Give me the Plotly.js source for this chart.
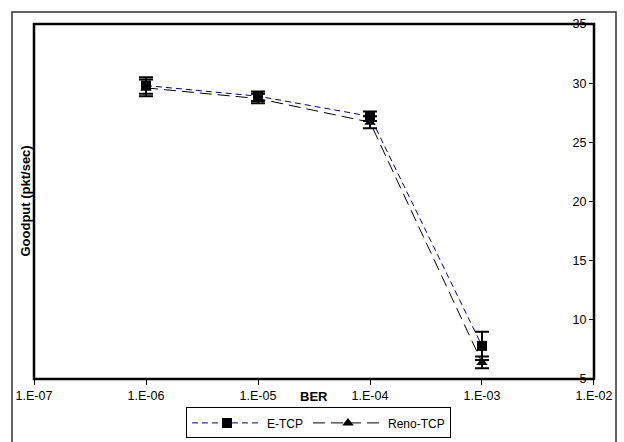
<!DOCTYPE html>
<html>
<head>
<meta charset="utf-8">
<script src="https://cdn.plot.ly/plotly-3.0.1.min.js"></script>
<style>html,body{margin:0;padding:0;background:#fff;}#chart{width:624px;height:442px;}</style>
</head>
<body>
<div id="chart"></div>
<script>
const ber = [1e-6, 1e-5, 1e-4, 1e-3];
const etcp = [29.8, 28.9, 27.2, 7.8];
const etcpErr = [0.7, 0.4, 0.4, 1.2];
const reno = [29.6, 28.7, 26.7, 6.4];
const renoErr = [0.7, 0.4, 0.5, 0.5];
const xTickVals = [1e-7, 1e-6, 1e-5, 1e-4, 1e-3, 1e-2];
const xTickText = ['1.E-07', '1.E-06', '1.E-05', '1.E-04', '1.E-03', '1.E-02'];
const yTickVals = [5, 10, 15, 20, 25, 30, 35];

const traces = [
  {
    x: ber, y: reno, name: 'Reno-TCP', type: 'scatter', mode: 'lines+markers',
    line: {color: '#000000', width: 1, dash: '12px,6px'},
    marker: {symbol: 'triangle-up', size: 10, color: '#000000'},
    error_y: {type: 'data', array: renoErr, visible: true, color: '#000000', thickness: 2, width: 7}
  },
  {
    x: ber, y: etcp, name: 'E-TCP', type: 'scatter', mode: 'lines+markers',
    line: {color: '#000080', width: 1, dash: '6px,4px'},
    marker: {symbol: 'square', size: 10, color: '#000000'},
    error_y: {type: 'data', array: etcpErr, visible: true, color: '#000000', thickness: 2, width: 7}
  }
];

const layout = {
  width: 624, height: 442,
  margin: {l: 34, r: 30, t: 24, b: 63, autoexpand: false},
  paper_bgcolor: '#ffffff', plot_bgcolor: '#ffffff',
  font: {family: 'Liberation Sans, Arial, sans-serif', size: 12.5, color: '#000'},
  showlegend: true,
  legend: {
    orientation: 'h', x: 0.508, xanchor: 'center', y: -0.08, yanchor: 'top',
    bordercolor: '#000', borderwidth: 1, traceorder: 'reversed',
    itemwidth: 70, font: {size: 12}
  },
  xaxis: {
    type: 'log', range: [-7.0001, -1.9999], tickvals: xTickVals, ticktext: xTickText,
    ticks: 'outside', ticklen: 5, tickcolor: '#000', tickwidth: 1, showgrid: false, zeroline: false,
    showline: false, automargin: false
  },
  yaxis: {
    range: [5, 35], tickvals: yTickVals, side: 'left', anchor: 'free', position: 1,
    ticks: 'outside', ticklen: 5, tickcolor: '#000', tickwidth: 1,
    showgrid: false, zeroline: false, showline: false, automargin: false
  },
  annotations: [
    {text: '<b>BER</b>', xref: 'paper', yref: 'paper', x: 0.5, y: -0.05, yanchor: 'middle', showarrow: false, font: {size: 13}},
    {text: '<b>Goodput (pkt/sec)</b>', xref: 'paper', yref: 'paper', x: -0.016, y: 0.5, textangle: -90, xanchor: 'center', yanchor: 'middle', showarrow: false, font: {size: 13}}
  ],
  shapes: [
    {type: 'rect', xref: 'paper', yref: 'paper', x0: -0.0393, x1: 1.0393, y0: -0.2, y1: 1.0338,
     line: {color: '#333', width: 1.5}, layer: 'below'},
    {type: 'rect', xref: 'paper', yref: 'paper', x0: 0, x1: 1, y0: 0, y1: 1,
     line: {color: '#000', width: 2.5}, layer: 'above'}
  ]
};

Plotly.newPlot('chart', traces, layout, {displayModeBar: false, staticPlot: true});
</script>
</body>
</html>
